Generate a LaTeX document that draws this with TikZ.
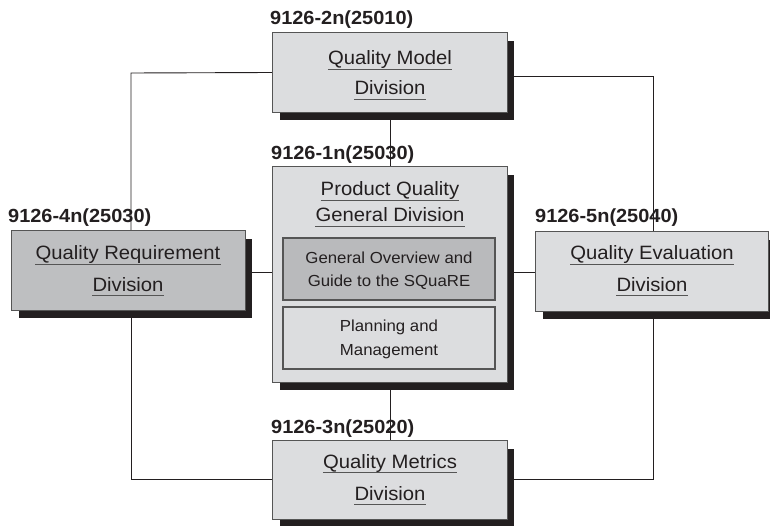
\documentclass[tikz,border=0pt]{standalone}
\usepackage{fontspec}
\setmainfont[FakeStretch=1.05]{Liberation Sans}
\usetikzlibrary{calc}
\definecolor{boxlight}{HTML}{DCDDDF}
\definecolor{boxdark}{HTML}{BEBFC1}
\definecolor{innerdark}{HTML}{B9BABC}
\definecolor{shadowc}{HTML}{231F20}
\definecolor{edgec}{HTML}{555555}
\tikzset{
  division/.style={draw=edgec, line width=1.1pt, fill=boxlight, inner sep=0pt},
  conn/.style={draw=shadowc, line width=0.9pt},
  divtext/.style={inner sep=0pt, font=\fontsize{19.3}{22}\selectfont, text=shadowc},
  smalltext/.style={inner sep=0pt, font=\fontsize{16}{19}\selectfont, text=shadowc},
  codelabel/.style={inner sep=0pt, anchor=base west, text=shadowc, font=\fontsize{19}{22}\selectfont\bfseries},
  uline/.style={draw=edgec, line width=1.2pt}
}
% underlined text line centred at (x,y) on its baseline
\newcommand\divline[4]{%
  \node[divtext,anchor=base] (#1) at (#2,#3) {#4};
  \draw[uline] ([yshift=-4.5pt]#1.base west) -- ([yshift=-4.5pt]#1.base east);}
\begin{document}
\begin{tikzpicture}[x=1pt,y=-1pt]
\useasboundingbox (0,0) rectangle (770,526);

% box frames (positions only, drawn later on top of connectors)
\path
  (273,33) coordinate (qmA) (507,112) coordinate (qmB)
  (273,167) coordinate (pqA) (507,382) coordinate (pqB)
  (12,231) coordinate (qrA) (245,310) coordinate (qrB)
  (536,232) coordinate (qeA) (768,311) coordinate (qeB)
  (273,441) coordinate (mtA) (507,519) coordinate (mtB);

\node[inner sep=0pt, minimum width=234pt, minimum height=79pt] (qm) at ($(qmA)!0.5!(qmB)$) {};
\node[inner sep=0pt, minimum width=234pt, minimum height=215pt] (pq) at ($(pqA)!0.5!(pqB)$) {};
\node[inner sep=0pt, minimum width=233pt, minimum height=79pt] (qr) at ($(qrA)!0.5!(qrB)$) {};
\node[inner sep=0pt, minimum width=232pt, minimum height=79pt] (qe) at ($(qeA)!0.5!(qeB)$) {};
\node[inner sep=0pt, minimum width=234pt, minimum height=78pt] (mt) at ($(mtA)!0.5!(mtB)$) {};

% connectors
\coordinate (tl) at (131,73);
\coordinate (tr) at (653,76);
\coordinate (bl) at (131,479);
\coordinate (br) at (653,479);
\draw[conn] (qm.west) -- (tl) -- (tl |- qr.north);
\draw[conn] (qr.south -| bl) -- (bl) -- (mt.west |- bl);
\draw[conn] (qm.east |- tr) -- (tr) -- (tr |- qe.north);
\draw[conn] (qe.south -| br) -- (br) -- (mt.east |- br);
\draw[conn] (qm.south) -- (pq.north);
\draw[conn] (pq.south) -- (mt.north);
\draw[conn] (qr.east |- 0,272) -- (pq.west |- 0,272);
\draw[conn] (pq.east |- 0,272) -- (qe.west |- 0,272);

% shadows
\foreach \n in {qm,pq,qr,qe,mt}{
  \fill[shadowc] ([xshift=7pt,yshift=-8pt]\n.north west) rectangle ([xshift=7pt,yshift=-8pt]\n.south east);
}

% boxes
\draw[division] (qm.north west) rectangle (qm.south east);
\draw[division] (pq.north west) rectangle (pq.south east);
\draw[division, fill=boxdark] (qr.north west) rectangle (qr.south east);
\draw[division] (qe.north west) rectangle (qe.south east);
\draw[division] (mt.north west) rectangle (mt.south east);

% inner boxes of the general division
\node[division, fill=innerdark, minimum width=212pt, minimum height=62pt] (ov) at (389,269) {};
\node[division, fill=boxlight, minimum width=212pt, minimum height=62pt] (pm) at (389,338) {};

% division titles
\divline{qm1}{390}{65}{Quality Model}
\divline{qm2}{390}{95}{Division}
\divline{pq1}{390}{196}{Product Quality}
\divline{pq2}{390}{222}{General Division}
\divline{qr1}{128}{260}{Quality Requirement}
\divline{qr2}{128}{291}{Division}
\divline{qe1}{652}{260}{Quality Evaluation}
\divline{qe2}{652}{291}{Division}
\divline{mt1}{390}{468}{Quality Metrics}
\divline{mt2}{390}{500}{Division}

% inner box texts
\node[smalltext, anchor=base] (ov1) at (389,264) {General Overview and};
\node[smalltext, anchor=base] (ov2) at (389,287) {Guide to the SQuaRE};
\node[smalltext, anchor=base] (pm1) at (389,331) {Planning and};
\node[smalltext, anchor=base] (pm2) at (389,355) {Management};

% document numbers
\node[codelabel] (l2) at (270,25) {9126-2n(25010)};
\node[codelabel] (l1) at (271,160) {9126-1n(25030)};
\node[codelabel] (l4) at (8,223) {9126-4n(25030)};
\node[codelabel] (l5) at (535,223) {9126-5n(25040)};
\node[codelabel] (l3) at (271,433) {9126-3n(25020)};
\end{tikzpicture}
\end{document}
